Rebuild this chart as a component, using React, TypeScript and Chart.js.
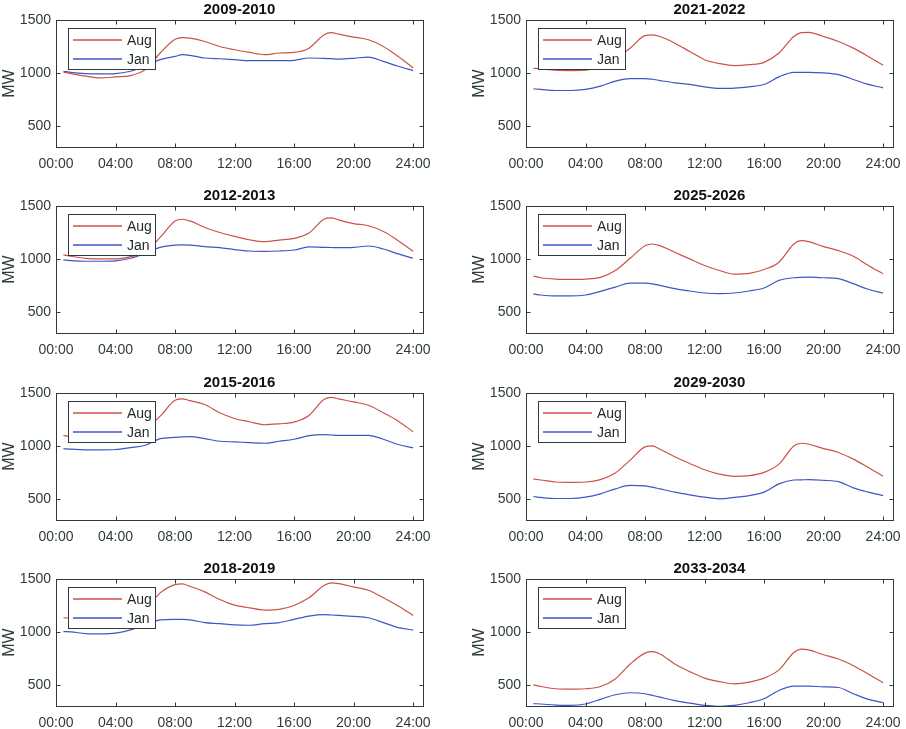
import React, { useEffect, useRef } from "react";
import { Chart, registerables } from "chart.js";

Chart.register(...registerables);

// ---------- data ----------
const HOURS = [0.5, 1, 2, 3, 4, 5, 6, 7, 8, 8.5, 9, 10, 11, 12, 13, 14, 15, 16, 17, 18, 18.5, 19, 20, 21, 22, 23, 24];

const X_TICKS = [0, 4, 8, 12, 16, 20, 24];
const Y_TICKS = [500, 1000, 1500];
const SERIES_LABELS = ["Aug", "Jan"];
const Y_LABEL = "MW";

const TITLES = ["2009-2010", "2021-2022", "2012-2013", "2025-2026", "2015-2016", "2029-2030", "2018-2019", "2033-2034"];

const AUG_0910 = [1006, 994, 969, 953, 963, 975, 1031, 1188, 1319, 1334, 1328, 1297, 1250, 1219, 1194, 1172, 1188, 1194, 1234, 1359, 1381, 1366, 1338, 1313, 1250, 1156, 1047];
const JAN_0910 = [1016, 1006, 994, 991, 994, 1016, 1063, 1125, 1156, 1172, 1166, 1141, 1134, 1125, 1116, 1116, 1116, 1119, 1141, 1138, 1135, 1131, 1138, 1150, 1109, 1063, 1022];

const AUG_2122 = [1044, 1038, 1025, 1022, 1025, 1060, 1140, 1234, 1353, 1359, 1344, 1281, 1203, 1125, 1088, 1069, 1078, 1100, 1188, 1344, 1380, 1384, 1344, 1297, 1234, 1156, 1072];
const JAN_2122 = [850, 844, 834, 834, 844, 875, 922, 947, 947, 940, 928, 906, 891, 869, 853, 856, 869, 891, 963, 1006, 1006, 1006, 1000, 984, 938, 891, 859];

const AUG_1213 = [1038, 1025, 1006, 1000, 1000, 1022, 1063, 1203, 1359, 1375, 1359, 1297, 1250, 1213, 1181, 1163, 1178, 1194, 1244, 1375, 1388, 1369, 1334, 1313, 1259, 1172, 1072];
const JAN_1213 = [991, 984, 978, 978, 981, 1006, 1053, 1109, 1131, 1133, 1131, 1116, 1106, 1088, 1075, 1072, 1075, 1084, 1113, 1109, 1108, 1106, 1109, 1122, 1094, 1047, 1006];

const AUG_2526 = [838, 822, 809, 806, 809, 825, 891, 1006, 1125, 1141, 1125, 1063, 1000, 938, 891, 856, 863, 900, 969, 1141, 1172, 1163, 1116, 1078, 1025, 938, 859];
const JAN_2526 = [669, 659, 650, 650, 659, 694, 734, 772, 772, 765, 750, 719, 697, 678, 672, 678, 697, 725, 797, 822, 826, 828, 822, 813, 766, 713, 678];

const AUG_1516 = [1100, 1088, 1080, 1075, 1080, 1100, 1160, 1281, 1431, 1444, 1428, 1391, 1313, 1259, 1228, 1200, 1209, 1225, 1288, 1438, 1459, 1444, 1416, 1384, 1313, 1234, 1134];
const JAN_1516 = [975, 969, 963, 963, 966, 984, 1006, 1069, 1081, 1085, 1088, 1069, 1044, 1038, 1031, 1025, 1044, 1063, 1097, 1106, 1103, 1100, 1100, 1100, 1063, 1013, 981];

const AUG_2930 = [688, 678, 659, 656, 659, 681, 744, 866, 991, 1000, 969, 897, 834, 775, 734, 713, 719, 750, 828, 1000, 1025, 1016, 975, 938, 875, 797, 713];
const JAN_2930 = [522, 513, 503, 503, 516, 547, 594, 628, 622, 610, 594, 563, 538, 516, 500, 513, 531, 563, 641, 678, 680, 681, 675, 663, 603, 563, 531];

const AUG_1819 = [1134, 1131, 1125, 1120, 1125, 1150, 1220, 1369, 1447, 1453, 1431, 1378, 1306, 1253, 1228, 1206, 1213, 1250, 1322, 1438, 1463, 1456, 1425, 1394, 1322, 1244, 1156];
const JAN_1819 = [1003, 1000, 984, 981, 988, 1019, 1072, 1113, 1119, 1118, 1113, 1088, 1078, 1066, 1063, 1078, 1088, 1119, 1150, 1163, 1160, 1156, 1147, 1134, 1088, 1041, 1019];

const AUG_3334 = [500, 484, 463, 459, 463, 484, 556, 697, 800, 813, 791, 697, 625, 563, 531, 509, 525, 563, 641, 806, 838, 831, 784, 744, 681, 603, 519];
const JAN_3334 = [322, 319, 309, 306, 319, 363, 406, 425, 416, 400, 384, 350, 328, 306, 297, 306, 331, 369, 447, 488, 488, 488, 481, 475, 416, 363, 331];

const AUG_SERIES = [AUG_0910, AUG_2122, AUG_1213, AUG_2526, AUG_1516, AUG_2930, AUG_1819, AUG_3334];
const JAN_SERIES = [JAN_0910, JAN_2122, JAN_1213, JAN_2526, JAN_1516, JAN_2930, JAN_1819, JAN_3334];

// ---------- style ----------
const AUG_COLOR = "#cc5247";
const JAN_COLOR = "#4055c4";
const AXIS_COLOR = "#2f3b3b";
const TEXT_COLOR = "#2f3b3b";
const FONT = "'Liberation Sans', Arial, Helvetica, sans-serif";

const CANVAS_W = 440;
const CANVAS_H = 186;
const COL_LEFT = [0, 470];
const ROW_TOP = [0, 186, 373, 559];

function fmtHour(v: number) {
  return String(v).padStart(2, "0") + ":00";
}

function makeFramePlugin(title: string) {
  return {
    id: "frameAndLegend",
    afterDatasetsDraw(chart: any) {
      const ctx = chart.ctx;
      const ca = chart.chartArea;
      const bx = Math.round(ca.left) + 12;
      const by = Math.round(ca.top) + 8;
      const bw = 87;
      const bh = 41;
      ctx.save();
      ctx.fillStyle = "#ffffff";
      ctx.fillRect(bx, by, bw, bh);
      ctx.strokeStyle = AXIS_COLOR;
      ctx.lineWidth = 1;
      ctx.strokeRect(bx + 0.5, by + 0.5, bw, bh);
      const colors = [AUG_COLOR, JAN_COLOR];
      const ys = [by + 12, by + 31];
      ctx.font = `14px ${FONT}`;
      ctx.textBaseline = "middle";
      ctx.textAlign = "left";
      for (let i = 0; i < 2; i++) {
        ctx.beginPath();
        ctx.strokeStyle = colors[i];
        ctx.lineWidth = 1.4;
        ctx.moveTo(bx + 5, ys[i]);
        ctx.lineTo(bx + 54, ys[i]);
        ctx.stroke();
        ctx.fillStyle = "#1f2828";
        ctx.fillText(SERIES_LABELS[i], bx + 59, ys[i] + 1);
      }
      ctx.restore();
    },
    afterDraw(chart: any) {
      const ctx = chart.ctx;
      const ca = chart.chartArea;
      const xs = chart.scales.x;
      const ysc = chart.scales.y;
      ctx.save();
      ctx.strokeStyle = AXIS_COLOR;
      ctx.lineWidth = 1;
      const l = Math.round(ca.left) + 0.5;
      const r = Math.round(ca.right) + 0.5;
      const t = Math.round(ca.top) + 0.5;
      const b = Math.round(ca.bottom) + 0.5;
      ctx.strokeRect(l, t, r - l, b - t);
      const TL = 4;
      ctx.beginPath();
      for (const v of X_TICKS) {
        const px = Math.round(xs.getPixelForValue(v)) + 0.5;
        ctx.moveTo(px, b);
        ctx.lineTo(px, b - TL);
        ctx.moveTo(px, t);
        ctx.lineTo(px, t + TL);
      }
      for (const v of Y_TICKS) {
        const py = Math.round(ysc.getPixelForValue(v)) + 0.5;
        ctx.moveTo(l, py);
        ctx.lineTo(l + TL, py);
        ctx.moveTo(r, py);
        ctx.lineTo(r - TL, py);
      }
      ctx.stroke();
      ctx.fillStyle = "#111";
      ctx.font = `bold 15px ${FONT}`;
      ctx.textAlign = "center";
      ctx.textBaseline = "middle";
      ctx.fillText(title, (ca.left + ca.right) / 2, ca.top - 10);
      ctx.restore();
    },
  };
}

function Panel(props: { idx: number }) {
  const { idx } = props;
  const ref = useRef<HTMLCanvasElement>(null);
  useEffect(() => {
    const aug = AUG_SERIES[idx];
    const jan = JAN_SERIES[idx];
    const chart = new Chart(ref.current as HTMLCanvasElement, {
      type: "line",
      data: {
        datasets: [
          {
            label: SERIES_LABELS[0],
            data: HOURS.map((h, i) => ({ x: h, y: aug[i] })),
            borderColor: AUG_COLOR,
            borderWidth: 1.2,
            pointRadius: 0,
            cubicInterpolationMode: "monotone",
            fill: false,
          },
          {
            label: SERIES_LABELS[1],
            data: HOURS.map((h, i) => ({ x: h, y: jan[i] })),
            borderColor: JAN_COLOR,
            borderWidth: 1.2,
            pointRadius: 0,
            cubicInterpolationMode: "monotone",
            fill: false,
          },
        ],
      },
      options: {
        animation: false,
        responsive: false,
        events: [],
        layout: { padding: { top: 20, right: CANVAS_W - 426, left: 0, bottom: 0 } },
        plugins: {
          legend: { display: false },
          tooltip: { enabled: false },
          title: { display: false },
        },
        scales: {
          x: {
            type: "linear",
            min: 0,
            max: 24.65,
            afterBuildTicks: (s: any) => {
              s.ticks = X_TICKS.map((v) => ({ value: v }));
            },
            afterFit: (s: any) => {
              s.height = 39;
            },
            ticks: {
              callback: (v: any) => fmtHour(Number(v)),
              color: TEXT_COLOR,
              font: { family: FONT, size: 14 },
              padding: 9,
              maxRotation: 0,
              autoSkip: false,
            },
            grid: { display: false, drawTicks: false },
            border: { display: false },
          },
          y: {
            type: "linear",
            min: 300,
            max: 1500,
            afterBuildTicks: (s: any) => {
              s.ticks = Y_TICKS.map((v) => ({ value: v }));
            },
            afterFit: (s: any) => {
              s.width = 56;
            },
            ticks: {
              callback: (v: any) => String(v),
              color: TEXT_COLOR,
              font: { family: FONT, size: 14 },
              padding: 5,
            },
            grid: { display: false, drawTicks: false },
            border: { display: false },
            title: {
              display: true,
              text: Y_LABEL,
              color: TEXT_COLOR,
              font: { family: FONT, size: 16 },
              padding: 0,
            },
          },
        },
      } as any,
      plugins: [makeFramePlugin(TITLES[idx])],
    });
    return () => chart.destroy();
  }, [idx]);
  const col = idx % 2;
  const row = Math.floor(idx / 2);
  return (
    <canvas
      ref={ref}
      width={CANVAS_W}
      height={CANVAS_H}
      style={{ position: "absolute", left: COL_LEFT[col], top: ROW_TOP[row], width: CANVAS_W, height: CANVAS_H }}
    />
  );
}

export default function App() {
  return (
    <div
      style={{
        position: "fixed",
        left: 0,
        top: 0,
        width: 906,
        height: 729,
        overflow: "hidden",
        background: "#ffffff",
      }}
    >
      {TITLES.map((_, i) => (
        <Panel key={i} idx={i} />
      ))}
    </div>
  );
}
